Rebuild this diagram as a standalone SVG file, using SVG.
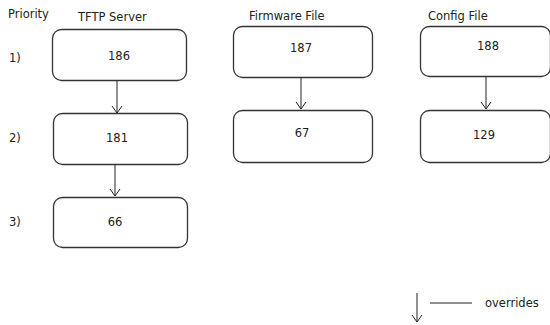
<svg xmlns="http://www.w3.org/2000/svg" width="550" height="325" viewBox="0 0 550 325">
<defs>
<marker id="arr" markerWidth="10" markerHeight="12" refX="9" refY="6" orient="auto" markerUnits="userSpaceOnUse" viewBox="0 0 10 12">
<polyline points="2,1 9,6 2,11" fill="none" stroke="#222" stroke-width="1"/>
</marker>
<style>
text{font-family:"DejaVu Sans",Verdana,sans-serif;font-size:11.5px;fill:#222}
.box{fill:#fff;stroke:#333;stroke-width:1.3}
.mid{text-anchor:middle}
.con{stroke:#222;stroke-width:1;fill:none}
</style>
</defs>
<rect width="550" height="325" fill="#fff"/>
<text x="8" y="18">Priority</text>
<text x="78" y="21">TFTP Server</text>
<text x="249" y="20">Firmware File</text>
<text x="428" y="20">Config File</text>
<text x="9" y="62">1)</text>
<text x="9" y="142">2)</text>
<text x="9" y="226">3)</text>
<g id="connectors">
<line class="con" x1="117" y1="80" x2="117" y2="113" marker-end="url(#arr)"/>
<line class="con" x1="115" y1="164" x2="115" y2="196" marker-end="url(#arr)"/>
<line class="con" x1="301" y1="78" x2="301" y2="109" marker-end="url(#arr)"/>
<line class="con" x1="486" y1="77" x2="486" y2="109" marker-end="url(#arr)"/>
</g>
<g id="n186"><rect class="box" x="52.5" y="29.5" width="134" height="51" rx="9"/><text class="mid" x="119" y="60">186</text></g>
<g id="n181"><rect class="box" x="53.5" y="113.5" width="134" height="51" rx="9"/><text class="mid" x="117" y="142">181</text></g>
<g id="n66"><rect class="box" x="53.5" y="197.5" width="134" height="50" rx="9"/><text class="mid" x="115" y="226">66</text></g>
<g id="n187"><rect class="box" x="233.5" y="26.5" width="139" height="51" rx="9"/><text class="mid" x="301" y="52">187</text></g>
<g id="n67"><rect class="box" x="233.5" y="110.5" width="139" height="52" rx="9"/><text class="mid" x="302" y="137">67</text></g>
<g id="n188"><rect class="box" x="420.5" y="26.5" width="130" height="50" rx="9"/><text class="mid" x="488" y="50">188</text></g>
<g id="n129"><rect class="box" x="420.5" y="110.5" width="130" height="52" rx="9"/><text class="mid" x="484" y="139">129</text></g>
<g id="legend">
<line class="con" x1="417" y1="293" x2="417" y2="322" marker-end="url(#arr)"/>
<line class="con" x1="430" y1="303" x2="472" y2="303"/>
<text x="485" y="307">overrides</text>
</g>
</svg>
